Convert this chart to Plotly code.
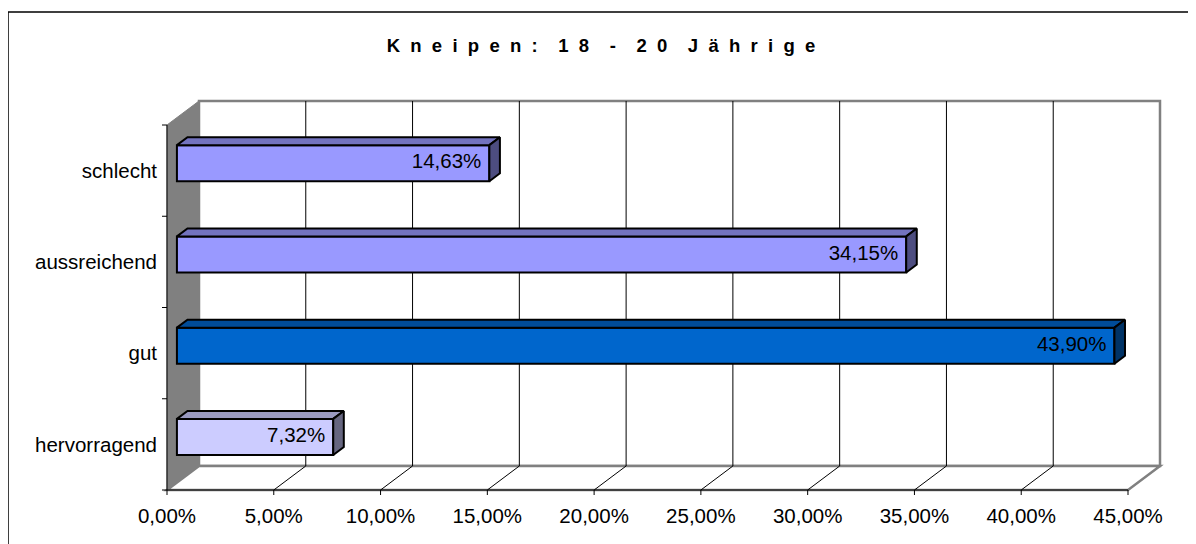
import plotly.graph_objects as go

# ---------------- data ----------------
categories = ["hervorragend", "gut", "aussreichend", "schlecht"]
values = [7.32, 43.90, 34.15, 14.63]
value_labels = ["7,32%", "43,90%", "34,15%", "14,63%"]
x_ticks = [0, 5, 10, 15, 20, 25, 30, 35, 40, 45]
x_tick_labels = ["0,00%", "5,00%", "10,00%", "15,00%", "20,00%",
                 "25,00%", "30,00%", "35,00%", "40,00%", "45,00%"]
title_text = "Kneipen: 18 - 20 Jährige"

# ---------------- styles / geometry ----------------
FONT = "Liberation Sans, Arial, sans-serif"
FS = 20.5
face_colors = ["#CCCCFF", "#0066CC", "#9999FF", "#9999FF"]
top_colors = ["#9999C0", "#004C99", "#7373BF", "#7373BF"]
side_colors = ["#666680", "#003366", "#4D4D80", "#4D4D80"]

OFF = 8                          # browser body margin
W, H = 1196 - OFF, 544 - OFF
# geometry in window pixels
AX_L, AX_R = 167, 1128          # pixel of first / last x tick (front plane)
FLOOR_Y = 490                   # pixel of front floor line
CAT_PX = 91.25                  # pixels per category
DEPTH_PX = (32, 24)             # 3-D depth offset (right, up)
PLOT_L, PLOT_R, PLOT_T, PLOT_B = 161, 1166, 96, 498
BAR_W = 0.395
F1, F2 = 0.31, 0.64             # bar front / back depth fractions

kx = (AX_R - AX_L) / x_ticks[-1]
xr = [(PLOT_L - AX_L) / kx, (PLOT_R - AX_L) / kx]
yr = [-0.5 - (PLOT_B - FLOOR_Y) / CAT_PX, -0.5 + (FLOOR_Y - PLOT_T) / CAT_PX]
ddx = DEPTH_PX[0] / kx
ddy = DEPTH_PX[1] / CAT_PX
xmax = x_ticks[-1]
y0, y1 = -0.5, len(categories) - 0.5

shapes = []
# back wall
shapes.append(dict(type="rect", xref="x", yref="y", layer="below",
                   x0=ddx, x1=xmax + ddx, y0=y0 + ddy, y1=y1 + ddy,
                   fillcolor="white", line=dict(color="#808080", width=2.5)))
# floor
shapes.append(dict(type="path", xref="x", yref="y", layer="below",
                   path=f"M0,{y0} L{ddx},{y0+ddy} L{xmax+ddx},{y0+ddy} L{xmax},{y0} Z",
                   fillcolor="white", line=dict(color="#808080", width=2.5)))
# back wall gridlines + floor diagonals
for t in x_ticks[1:-1]:
    shapes.append(dict(type="line", xref="x", yref="y", layer="below",
                       x0=t + ddx, x1=t + ddx, y0=y0 + ddy, y1=y1 + ddy,
                       line=dict(color="#000000", width=1)))
    shapes.append(dict(type="line", xref="x", yref="y", layer="below",
                       x0=t, x1=t + ddx, y0=y0, y1=y0 + ddy,
                       line=dict(color="#000000", width=1)))
# side wall
shapes.append(dict(type="path", xref="x", yref="y", layer="below",
                   path=f"M0,{y0} L0,{y1} L{ddx},{y1+ddy} L{ddx},{y0+ddy} Z",
                   fillcolor="#808080", line=dict(color="#808080", width=1)))

# outer frame (paper coords)
def px2paper_x(px):
    return (px - PLOT_L) / (PLOT_R - PLOT_L)

def px2paper_y(py):
    return (PLOT_B - py) / (PLOT_B - PLOT_T)

shapes.append(dict(type="rect", xref="paper", yref="paper", layer="above",
                   x0=px2paper_x(8), x1=px2paper_x(1193),
                   y0=px2paper_y(570), y1=px2paper_y(12),
                   line=dict(color="#000000", width=1.5)))

traces = []

# axis lines and tick marks
ax_x, ax_y = [], []
ax_x += [0, xmax, None]; ax_y += [y0, y0, None]
ax_x += [0, 0, None]; ax_y += [y0, y1, None]
tick_dy = 5 / CAT_PX
for t in x_ticks:
    ax_x += [t, t, None]; ax_y += [y0, y0 - tick_dy, None]
tick_dx = 5 / kx
for j in range(len(categories) + 1):
    ax_x += [0, -tick_dx, None]; ax_y += [j - 0.5, j - 0.5, None]
traces.append(go.Scatter(x=ax_x, y=ax_y, mode="lines",
                         line=dict(color="#000000", width=1),
                         hoverinfo="skip", showlegend=False))

# bar front faces
base = F1 * ddx
ys = [i + F1 * ddy for i in range(len(categories))]
traces.append(go.Bar(orientation="h", x=values, y=ys, base=base, width=BAR_W,
                     marker=dict(color=face_colors, line=dict(color="#000000", width=2)),
                     hoverinfo="skip", showlegend=False))

# bar top and side faces
bdx = (F2 - F1) * ddx
bdy = (F2 - F1) * ddy
for i, v in enumerate(values):
    yt = ys[i] + BAR_W / 2
    yb = ys[i] - BAR_W / 2
    xe = base + v
    traces.append(go.Scatter(
        x=[base, base + bdx, xe + bdx, xe, base],
        y=[yt, yt + bdy, yt + bdy, yt, yt],
        mode="lines", fill="toself", fillcolor=top_colors[i],
        line=dict(color="#000000", width=2), hoverinfo="skip", showlegend=False))
    traces.append(go.Scatter(
        x=[xe, xe + bdx, xe + bdx, xe, xe],
        y=[yt, yt + bdy, yb + bdy, yb, yt],
        mode="lines", fill="toself", fillcolor=side_colors[i],
        line=dict(color="#000000", width=2), hoverinfo="skip", showlegend=False))

# value labels
traces.append(go.Scatter(
    x=[base + v - 8 / kx for v in values], y=ys, mode="text",
    text=value_labels, textposition="middle left",
    textfont=dict(family=FONT, size=FS, color="#000000"),
    hoverinfo="skip", showlegend=False, cliponaxis=False))

fig = go.Figure(data=traces)

NB = "\u00a0"
spaced_title = (NB * 4).join((NB * 2).join(list(w)) for w in title_text.split(" "))

fig.update_layout(
    width=W, height=H,
    paper_bgcolor="white", plot_bgcolor="white",
    margin=dict(l=PLOT_L - OFF, r=W - (PLOT_R - OFF), t=PLOT_T - OFF,
                b=H - (PLOT_B - OFF), pad=0),
    showlegend=False, hovermode=False,
    font=dict(family=FONT, size=FS, color="#000000"),
    title=dict(text=spaced_title, xref="container", yref="container",
               x=(601 - OFF) / W, y=1 - (46 - OFF) / H,
               xanchor="center", yanchor="middle",
               font=dict(family=FONT, size=18.5, color="#000000", weight="bold")),
    xaxis=dict(range=xr, tickvals=x_ticks, ticktext=x_tick_labels,
               showgrid=False, zeroline=False, showline=False, ticks="",
               ticklabelstandoff=3,
               tickfont=dict(family=FONT, size=FS, color="#000000"),
               fixedrange=True),
    yaxis=dict(range=yr, tickvals=list(range(len(categories))), ticktext=categories,
               showgrid=False, zeroline=False, showline=False, ticks="",
               ticklabelstandoff=3,
               tickfont=dict(family=FONT, size=FS, color="#000000"),
               fixedrange=True),
    shapes=shapes,
)

fig.write_html("out.html")
